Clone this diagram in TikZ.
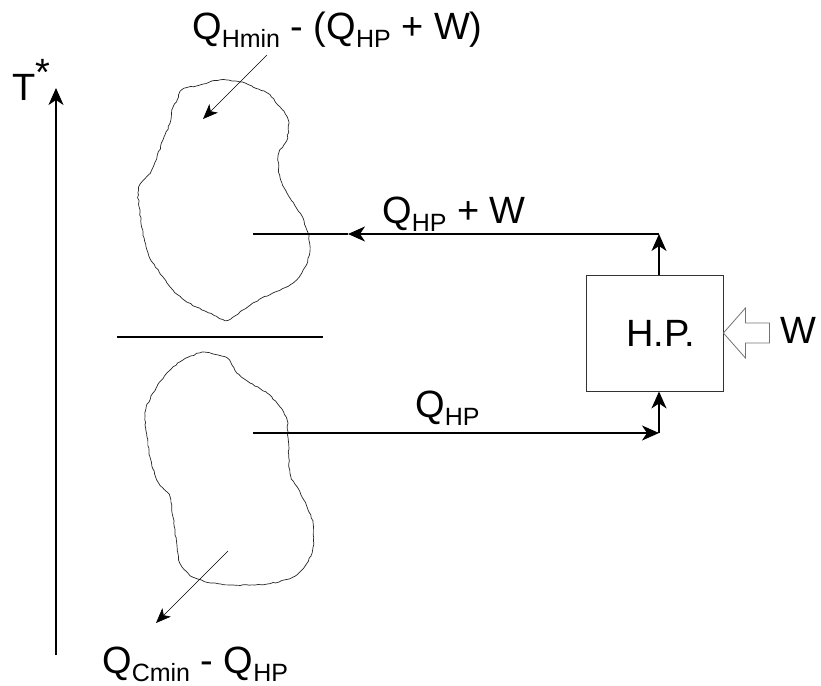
\documentclass[tikz,border=0pt]{standalone}
\usepackage{fontspec}
\setmainfont{Liberation Sans}
\usepackage{tikz}
\usetikzlibrary{arrows.meta,calc,decorations.pathmorphing}
\newcommand{\lowsub}[1]{\raisebox{-8pt}{\fontsize{25}{28}\selectfont #1}}
\tikzset{
  lbl/.style={font=\fontsize{38}{44}\selectfont, inner sep=0pt},
  flow/.style={line width=1.5pt, -{Stealth[length=17pt,width=15pt,inset=5pt]}},
  pointer/.style={line width=0.6pt, -{Stealth[length=15pt,width=12pt,inset=4pt]}},
  blob/.style={draw=black!85, line width=0.7pt, decorate,
    decoration={random steps, segment length=3pt, amplitude=0.6pt}},
  hpbox/.style={draw=black!80, line width=0.8pt, minimum width=137pt, minimum height=116pt,
    font=\fontsize{38}{44}\selectfont, inner sep=0pt}
}
\begin{document}
\begin{tikzpicture}[x=1pt,y=-1pt]
\useasboundingbox (0,0) rectangle (821,685);
\pgfmathsetseed{7}
% temperature axis
\coordinate (axlow) at (56,655);
\coordinate (axtop) at (56,88);
\draw[flow] (axlow) -- (axtop);
\node[lbl, anchor=base west] (tlbl) at (12,100) {T\raisebox{15pt}{*}};
% hot and cold regions
\draw[blob] plot[smooth cycle] coordinates {(182,90) (200,85) (220,80) (240,82) (253,87) (267,93)
  (280,107) (288,120) (287,140) (280,150) (278,160) (280,177) (287,193) (300,213) (308,233)
  (310,250) (305,267) (293,283) (273,293) (253,303) (233,317) (225,320) (207,312) (187,302)
  (173,290) (163,277) (153,263) (147,250) (143,233) (140,213) (138,193) (141,183) (150,173)
  (157,157) (163,140) (170,123) (172,110) (177,100)};
\draw[blob] plot[smooth cycle] coordinates {(200,353) (213,354) (227,358) (237,373) (250,383)
  (267,393) (280,407) (287,420) (288,437) (290,473) (297,487) (307,507) (313,523) (313,547)
  (307,563) (293,577) (267,584) (233,585) (213,583) (193,577) (180,563) (177,547) (173,517)
  (170,497) (157,480) (150,457) (147,437) (145,413) (153,393) (167,373) (183,360)};
\coordinate (sepleft) at (117,337);
\coordinate (sepright) at (323,337);
\draw[line width=1.1pt] (sepleft) -- (sepright);
% heat pump
\node[hpbox] (hp) at (654.5,333) {\hspace*{12pt}H.P.};
\coordinate (hotin) at (253,234);
\coordinate (hotmid) at (348,234);
\coordinate (hotcorner) at (659,234);
\coordinate (coldout) at (253,433);
\coordinate (coldcorner) at (659,433);
\draw[flow] (hotcorner |- hp.north) -- (hotcorner);
\draw[flow] (hotcorner) -- (hotmid);
\draw[line width=1.5pt] (hotmid) -- (hotin);
\draw[flow] (coldout) -- (coldcorner);
\draw[flow] (coldcorner) -- (coldcorner |- hp.south);
\node[lbl, anchor=base west] (hotflow) at (382,223) {Q\lowsub{HP} + W};
\node[lbl, anchor=base west] (coldflow) at (415,417) {Q\lowsub{HP}};
% work input
\draw[draw=black!55, line width=0.8pt] (hp.east) -- ++(22,-25) -- ++(0,15) -- ++(24,0) -- ++(0,20)
  -- ++(-24,0) -- ++(0,15) -- cycle;
\node[lbl, anchor=base west] (work) at (780,343) {W};
% residual duties
\node[lbl, anchor=base west] (hotres) at (192,40) {Q\lowsub{Hmin} - (Q\lowsub{HP} + W)};
\node[lbl, anchor=base west] (coldres) at (102,673) {Q\lowsub{Cmin} - Q\lowsub{HP}};
\coordinate (hotptr) at (267,55);
\coordinate (hotspot) at (203,119);
\coordinate (coldspot) at (228,551);
\coordinate (coldptr) at (156,623);
\draw[pointer] (hotptr) -- (hotspot);
\draw[pointer] (coldspot) -- (coldptr);
\end{tikzpicture}
\end{document}
